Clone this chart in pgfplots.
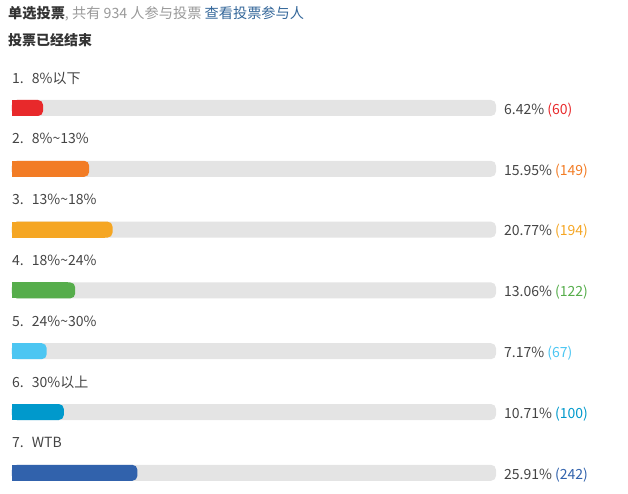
\documentclass[border=0pt]{standalone}
\usepackage{fontspec}
\setmainfont{Noto Sans CJK SC}
\usepackage{pgfplots}
\pgfplotsset{compat=1.18}

\definecolor{track}{HTML}{E4E4E4}
\definecolor{txt}{HTML}{444444}
\definecolor{head}{HTML}{333333}
\definecolor{muted}{HTML}{999999}
\definecolor{link}{HTML}{336699}
\definecolor{c1}{HTML}{E8292B}
\definecolor{c2}{HTML}{F27C25}
\definecolor{c3}{HTML}{F5A623}
\definecolor{c4}{HTML}{56AD4B}
\definecolor{c5}{HTML}{4CC6F2}
\definecolor{c6}{HTML}{0099CC}
\definecolor{c7}{HTML}{3162AC}

% one option: colour, bar centre (px from top), percent, votes, label
\newcommand\vote[5]{%
  \addplot[xbar, bar shift=0pt, bar width=16, fill=#1, draw=none, rounded corners=5bp]
    coordinates {(#3,#2)};
  \addplot[xbar, bar shift=0pt, bar width=16, fill=#1, draw=none, x filter/.expression={x-1.5}]
    coordinates {(#3,#2)};
  \node[anchor=west, inner sep=0pt, text=txt, font=\fontsize{14bp}{16bp}\selectfont]
    at (axis cs:0,#2-30) {#5};
  \node[anchor=west, inner sep=0pt, font=\fontsize{14bp}{16bp}\selectfont]
    at (axis cs:101.65,#2+2) {\textcolor{txt}{#3\%} \textcolor{#1}{(#4)}};
}

\begin{document}
\begin{tikzpicture}
\begin{axis}[
    scale only axis, width=628bp, height=494bp,
    xmin=-2.479, xmax=127.27,
    ymin=0, ymax=494, y dir=reverse,
    hide axis, clip=false,
]
\path (rel axis cs:0,0) rectangle (rel axis cs:1,1);

% grey tracks, 0 to 100 %
\addplot[xbar, bar shift=0pt, bar width=16, fill=track, draw=none, rounded corners=5bp]
  coordinates {(100,108) (100,168.8) (100,229.6) (100,290.4) (100,351.2) (100,412) (100,472.8)};

\vote{c1}{108}{6.42}{60}{1.\hspace{8bp}8\%以下}
\vote{c2}{168.8}{15.95}{149}{2.\hspace{8bp}8\%\textasciitilde13\%}
\vote{c3}{229.6}{20.77}{194}{3.\hspace{8bp}13\%\textasciitilde18\%}
\vote{c4}{290.4}{13.06}{122}{4.\hspace{8bp}18\%\textasciitilde24\%}
\vote{c5}{351.2}{7.17}{67}{5.\hspace{8bp}24\%\textasciitilde30\%}
\vote{c6}{412}{10.71}{100}{6.\hspace{8bp}30\%以上}
\vote{c7}{472.8}{25.91}{242}{7.\hspace{8bp}WTB}

\node[anchor=west, inner sep=0pt, font=\fontsize{14.2bp}{16bp}\selectfont]
  at (axis cs:-0.83,13.5)
  {\textcolor{head}{\bfseries 单选投票}\textcolor{muted}{, 共有 934 人参与投票} \textcolor{link}{查看投票参与人}};
\node[anchor=west, inner sep=0pt, text=head, font=\fontsize{14bp}{16bp}\selectfont\bfseries]
  at (axis cs:-0.83,40.5) {投票已经结束};
\end{axis}
\end{tikzpicture}
\end{document}
